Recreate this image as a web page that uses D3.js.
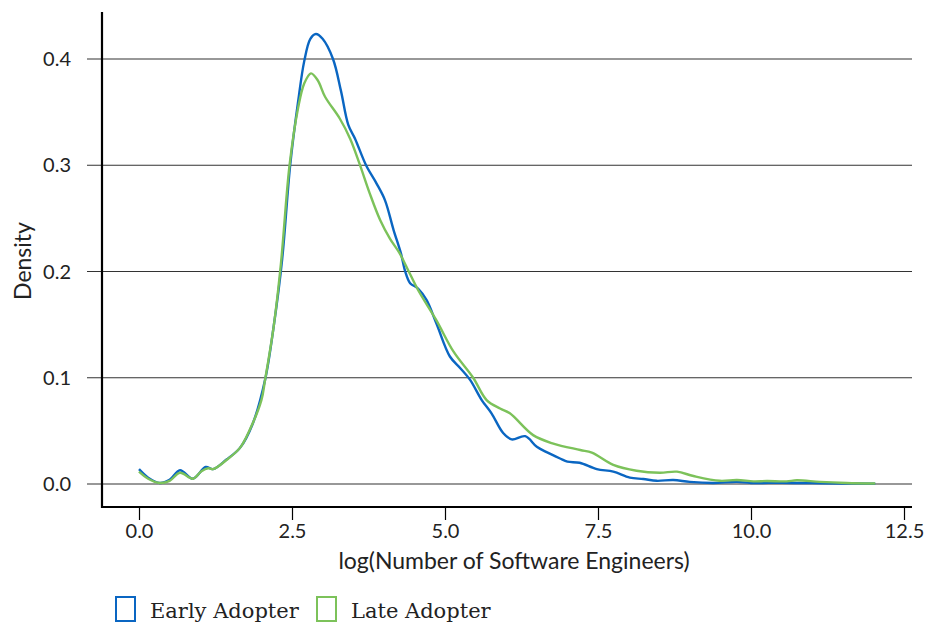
<!DOCTYPE html>
<html>
<head>
<meta charset="utf-8">
<script src="https://cdn.jsdelivr.net/npm/d3@7"></script>
<style>
  body { margin: 0; background: #fff; }
  text { fill: #222; }
</style>
</head>
<body>
<div id="graph"></div>
<script>
// Data: x = log(number of engineers), y = density
const xEarly = [0.0, 0.15, 0.34, 0.5, 0.67, 0.88, 1.09, 1.21, 1.43, 1.65, 1.86, 2.06, 2.2, 2.34, 2.47, 2.6, 2.70, 2.80, 2.89, 3.0, 3.17, 3.30, 3.42, 3.53, 3.71, 3.88, 4.02, 4.16, 4.28, 4.35, 4.43, 4.56, 4.70, 4.86, 5.08, 5.25, 5.41, 5.60, 5.76, 5.95, 6.09, 6.31, 6.50, 6.66, 6.88, 7.0, 7.2, 7.48, 7.75, 8.02, 8.24, 8.46, 8.73, 9.0, 9.38, 9.77, 10.0, 10.5, 11.0, 11.5, 12.03];
const yEarly = [0.014, 0.006, 0.001, 0.004, 0.013, 0.005, 0.016, 0.014, 0.023, 0.034, 0.057, 0.098, 0.148, 0.212, 0.30, 0.36, 0.398, 0.419, 0.4235, 0.419, 0.40, 0.37, 0.338, 0.325, 0.300, 0.283, 0.267, 0.239, 0.217, 0.200, 0.189, 0.184, 0.173, 0.151, 0.120, 0.109, 0.098, 0.079, 0.0665, 0.048, 0.042, 0.045, 0.035, 0.030, 0.024, 0.021, 0.020, 0.014, 0.0116, 0.006, 0.0047, 0.003, 0.0038, 0.002, 0.001, 0.002, 0.001, 0.0012, 0.0008, 0.0005, 0.0003];

const xLate = [0.0, 0.15, 0.34, 0.5, 0.67, 0.88, 1.02, 1.13, 1.21, 1.43, 1.65, 1.81, 2.0, 2.06, 2.2, 2.32, 2.46, 2.6, 2.70, 2.81, 2.92, 3.04, 3.28, 3.45, 3.60, 3.77, 3.94, 4.10, 4.26, 4.40, 4.56, 4.86, 5.14, 5.46, 5.68, 5.90, 6.06, 6.44, 6.77, 7.21, 7.40, 7.75, 8.13, 8.51, 8.79, 9.06, 9.49, 9.77, 10.04, 10.26, 10.58, 10.75, 11.13, 11.56, 12.03];
const yLate = [0.0116, 0.005, 0.001, 0.003, 0.0106, 0.005, 0.012, 0.0148, 0.014, 0.0226, 0.034, 0.051, 0.079, 0.098, 0.148, 0.208, 0.30, 0.354, 0.377, 0.3865, 0.380, 0.3645, 0.344, 0.325, 0.302, 0.2736, 0.2485, 0.231, 0.217, 0.201, 0.1826, 0.154, 0.1245, 0.100, 0.079, 0.071, 0.0665, 0.046, 0.038, 0.032, 0.0295, 0.018, 0.0125, 0.0106, 0.0116, 0.0075, 0.003, 0.0038, 0.0025, 0.0028, 0.0025, 0.0035, 0.002, 0.001, 0.0005];

const xTicks = [0, 2.5, 5, 7.5, 10, 12.5];
const yTicks = [0, 0.1, 0.2, 0.3, 0.4];
const seriesNames = ["Early Adopter", "Late Adopter"];
const seriesColors = ["#0a66c2", "#7cc25a"];

const width = 932, height = 625;
const tickFont = "Lato, 'Open Sans', sans-serif";

const svg = d3.select("#graph")
    .append("svg")
    .attr("width", width)
    .attr("height", height);

// scales
const x = d3.scaleLinear().domain([0, 12.5]).range([139, 904]);
const y = d3.scaleLinear().domain([0, 0.4]).range([484, 59]);

const plotLeft = 102, plotRight = 912, plotTop = 12, plotBottom = 507;

// horizontal grid lines (reach a bit left of the axis)
svg.append("g")
    .selectAll("line")
    .data(yTicks)
    .join("line")
    .attr("x1", 87)
    .attr("x2", plotRight)
    .attr("y1", d => y(d))
    .attr("y2", d => y(d))
    .attr("stroke", "#333")
    .attr("stroke-width", 1.1);

// y tick labels
svg.append("g")
    .selectAll("text")
    .data(yTicks)
    .join("text")
    .attr("x", 71)
    .attr("y", d => y(d))
    .attr("dy", "0.36em")
    .attr("text-anchor", "end")
    .style("font-family", tickFont)
    .style("font-size", "20px")
    .text(d => d3.format(".1f")(d));

// x axis
const xAxis = svg.append("g")
    .attr("transform", "translate(0," + plotBottom + ")")
    .call(d3.axisBottom(x).tickValues(xTicks).tickFormat(d3.format(".1f")).tickSize(13).tickPadding(4));
xAxis.select(".domain").remove();
xAxis.selectAll(".tick line").attr("stroke", "#000").attr("stroke-width", 1.2);
xAxis.selectAll(".tick text")
    .style("font-family", tickFont)
    .style("font-size", "20px")
    .attr("fill", "#222");

// axis lines
svg.append("line")
    .attr("x1", plotLeft).attr("x2", plotRight)
    .attr("y1", plotBottom).attr("y2", plotBottom)
    .attr("stroke", "#000").attr("stroke-width", 2.2);
svg.append("line")
    .attr("x1", plotLeft).attr("x2", plotLeft)
    .attr("y1", plotTop).attr("y2", plotBottom + 1)
    .attr("stroke", "#000").attr("stroke-width", 2.2);

// density curves
const line = d3.line()
    .x(d => x(d[0]))
    .y(d => y(d[1]))
    .curve(d3.curveCatmullRom.alpha(0.5));

const early = xEarly.map((v, i) => [v, yEarly[i]]);
const late = xLate.map((v, i) => [v, yLate[i]]);

svg.append("path")
    .datum(early)
    .attr("d", line)
    .attr("fill", "none")
    .attr("stroke", seriesColors[0])
    .attr("stroke-width", 2.4);

svg.append("path")
    .datum(late)
    .attr("d", line)
    .attr("fill", "none")
    .attr("stroke", seriesColors[1])
    .attr("stroke-width", 2.4);

// axis titles
svg.append("text")
    .attr("x", 514)
    .attr("y", 569)
    .attr("text-anchor", "middle")
    .style("font-family", tickFont)
    .style("font-size", "23px")
    .text("log(Number of Software Engineers)");

svg.append("text")
    .attr("transform", "translate(31,261) rotate(-90)")
    .attr("text-anchor", "middle")
    .style("font-family", tickFont)
    .style("font-size", "23px")
    .text("Density");

// legend
const legendX = [116, 317];
const legend = svg.append("g")
    .selectAll("g")
    .data(seriesNames)
    .join("g")
    .attr("transform", (d, i) => "translate(" + legendX[i] + ",0)");

legend.append("rect")
    .attr("x", 0)
    .attr("y", 597)
    .attr("width", 19)
    .attr("height", 24)
    .attr("fill", "none")
    .attr("stroke", (d, i) => seriesColors[i])
    .attr("stroke-width", 2);

legend.append("text")
    .attr("x", 34)
    .attr("y", 618)
    .style("font-family", "'DejaVu Serif', serif")
    .style("font-size", "21px")
    .text(d => d);
</script>
</body>
</html>
